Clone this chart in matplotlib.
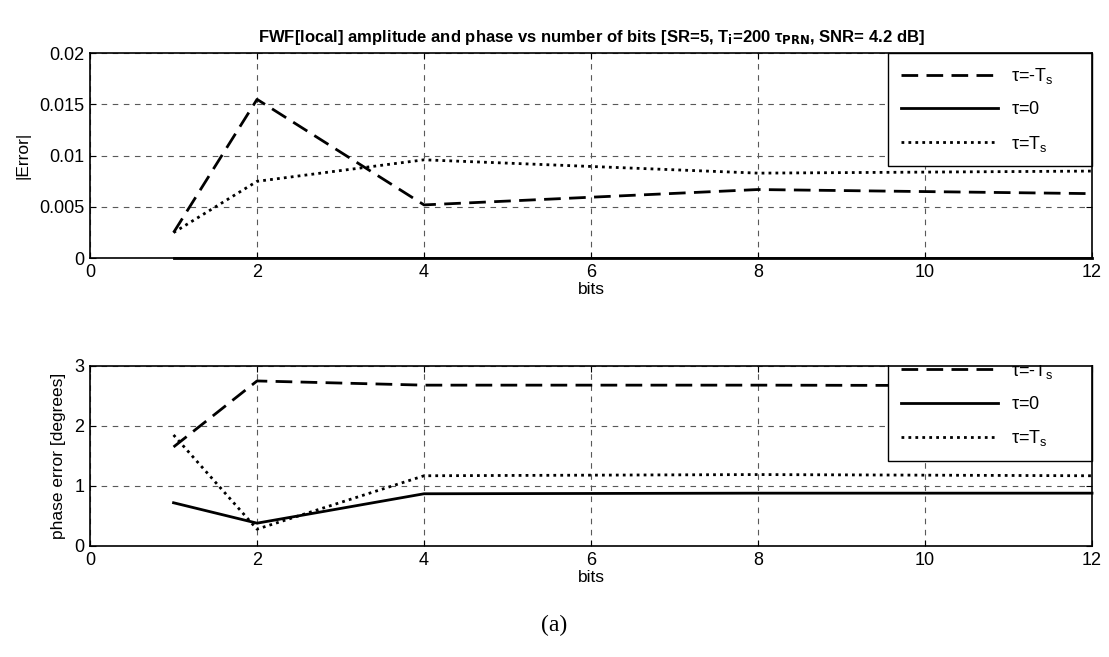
import numpy as np
import matplotlib.pyplot as plt
from matplotlib.patches import Rectangle

plt.rcParams['font.family'] = ['Liberation Sans', 'DejaVu Sans']
plt.rcParams['mathtext.default'] = 'regular'

# data
bits = [1, 2, 4, 8, 12]
amp_minus = [0.0025, 0.0155, 0.0052, 0.0067, 0.0063]
amp_zero = [0.0, 0.0, 0.0, 0.0, 0.0]
amp_plus = [0.0025, 0.0075, 0.0096, 0.0083, 0.0085]
ph_minus = [1.65, 2.75, 2.68, 2.68, 2.67]
ph_zero = [0.72, 0.38, 0.87, 0.88, 0.88]
ph_plus = [1.85, 0.28, 1.17, 1.19, 1.17]
labels = [r'$\tau$=-T$_s$', r'$\tau$=0', r'$\tau$=T$_s$']
xticks = [0, 2, 4, 6, 8, 10, 12]

fig = plt.figure(figsize=(11.09, 6.57), dpi=100)
ax1 = fig.add_axes([0.0812, 0.607, 0.9035, 0.312])
ax2 = fig.add_axes([0.0812, 0.169, 0.9035, 0.274])

styles = [(0, (6, 3)), '-', (0, (1, 1.5))]

def setup(ax, yvals, ylim, ylabel, series, anchor):
    for y, ls, lab in zip(series, styles, labels):
        ax.plot(bits, y, color='black', linestyle=ls, lw=2.0, label=lab + '      ',
                clip_on=False, zorder=3)
    ax.set_xlim(0, 12)
    ax.set_ylim(*ylim)
    ax.set_xticks(xticks)
    ax.set_yticks(yvals)
    ax.set_xlabel('bits', fontsize=12.5, labelpad=1)
    ax.set_ylabel(ylabel, fontsize=12.5, labelpad=6)
    ax.grid(True, color='0.35', linestyle=(0, (5, 5)), lw=0.8)
    ax.tick_params(direction='in', top=True, right=True, labelsize=13, length=4, pad=4)
    for s in ax.spines.values():
        s.set_linewidth(1.2)
        s.set_zorder(6)
    leg = ax.legend(loc='upper right', bbox_to_anchor=anchor,
                    handlelength=5.4, handletextpad=0.7,
                    borderpad=0.7, labelspacing=0.85, fontsize=13,
                    fancybox=False, framealpha=1, borderaxespad=0)
    leg.get_frame().set_edgecolor('black')
    leg.get_frame().set_linewidth(1.0)
    leg.set_zorder(5)

setup(ax1, [0, 0.005, 0.01, 0.015, 0.02], (0, 0.02), '|Error|',
      [amp_minus, amp_zero, amp_plus], (1, 1))
ax1.set_yticklabels(['0', '0.005', '0.01', '0.015', '0.02'])
# lower legend sits partly above the axes, its top part is hidden
setup(ax2, [0, 1, 2, 3], (0, 3), 'phase error [degrees]',
      [ph_minus, ph_zero, ph_plus], (1, 1.10))

top2 = 0.169 + 0.274
fig.add_artist(Rectangle((0.78, top2 + 1.0 / 657), 0.22, 0.06,
                         transform=fig.transFigure, facecolor='white',
                         edgecolor='none', zorder=10))

ax1.set_title(r'FWF[local] amplitude and phase vs number of bits [SR=5, T$_\mathbf{i}$=200 $\tau_\mathbf{PRN}$, SNR= 4.2 dB]',
              fontsize=12, fontweight='bold', pad=8)

fig.text(0.5, 0.048, '(a)', ha='center', va='center', fontsize=17,
         family=['Liberation Serif', 'DejaVu Serif'])

fig.savefig('out.png', dpi=100)
